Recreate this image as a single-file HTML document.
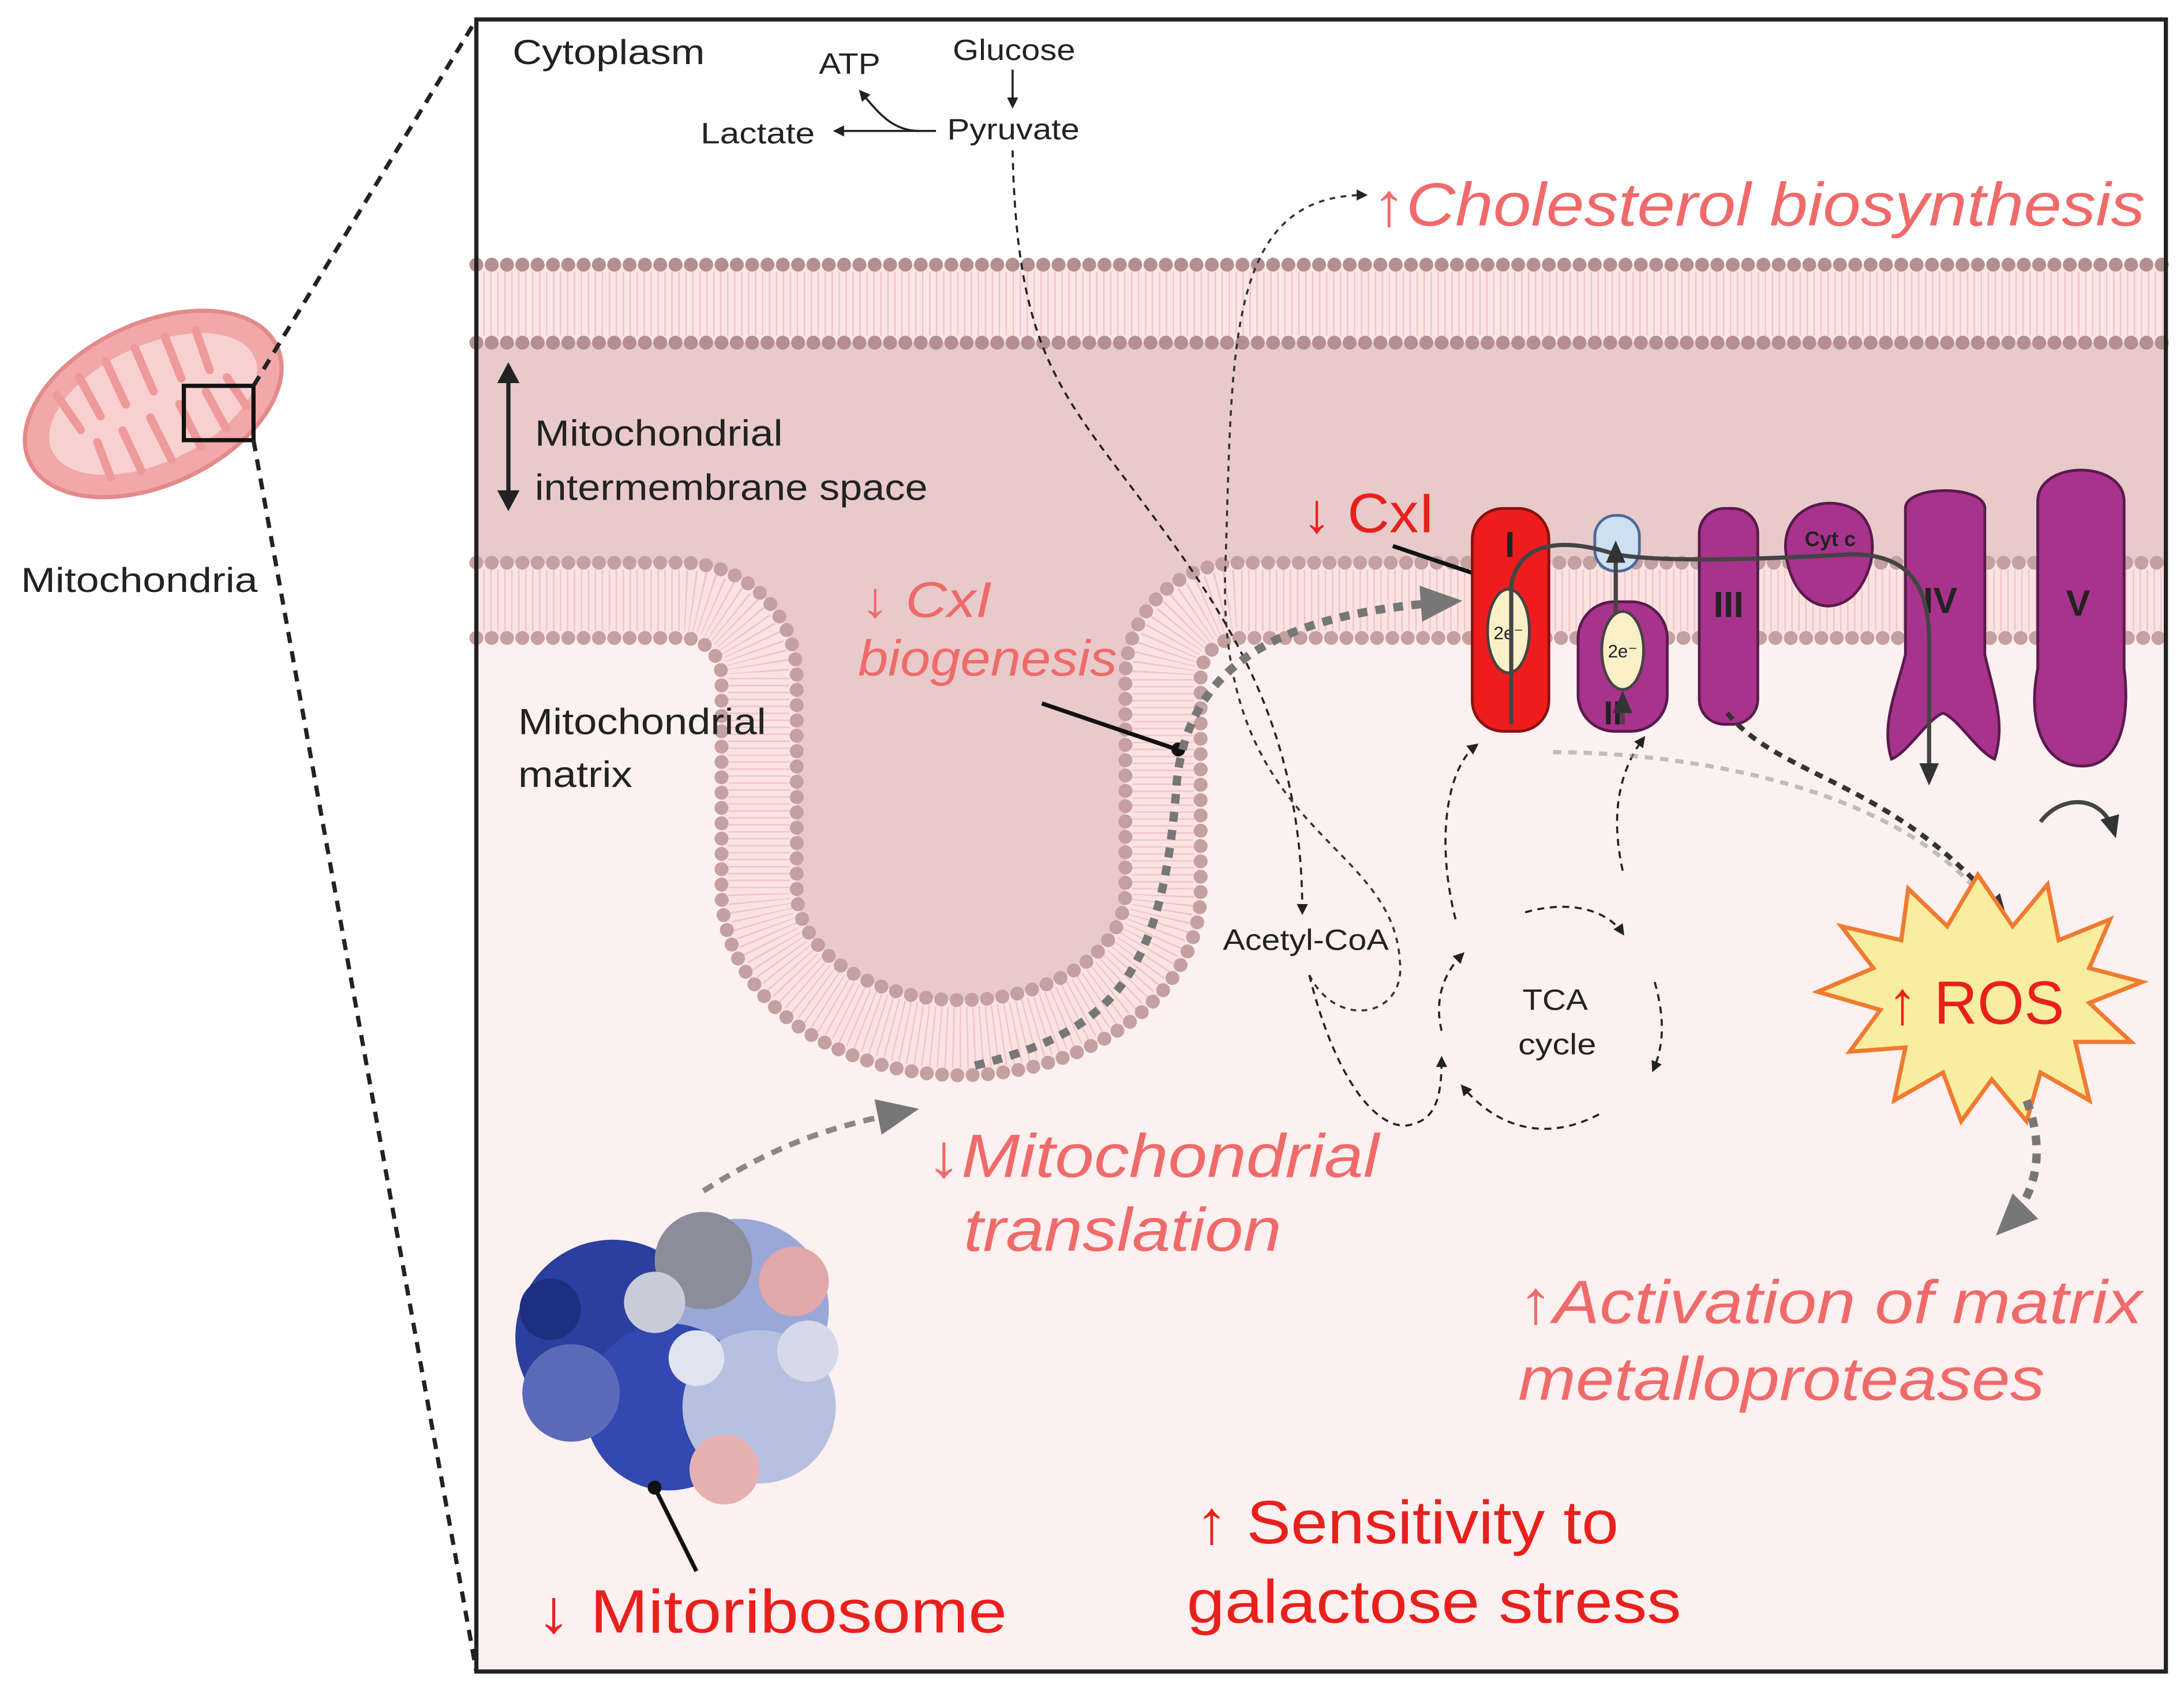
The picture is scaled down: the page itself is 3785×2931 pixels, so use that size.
<!DOCTYPE html>
<html><head><meta charset="utf-8"><style>html,body{margin:0;padding:0;background:#fff}svg{display:block}text{font-family:"Liberation Sans",sans-serif}</style></head><body>
<svg width="3785" height="2931" viewBox="0 0 1568 1214" preserveAspectRatio="none" xmlns="http://www.w3.org/2000/svg">
<defs>
<marker id="ah" markerWidth="8" markerHeight="8" refX="6" refY="4" orient="auto" markerUnits="userSpaceOnUse"><path d="M0,0 L8,4 L0,8 Z" fill="#222"/></marker>
<marker id="ahg" markerWidth="30" markerHeight="26" refX="20" refY="13" orient="auto" markerUnits="userSpaceOnUse"><path d="M0,0 L30,13 L0,26 Z" fill="#777"/></marker>
<marker id="ahd" markerWidth="16" markerHeight="14" refX="12" refY="7" orient="auto" markerUnits="userSpaceOnUse"><path d="M0,0 L16,7 L0,14 Z" fill="#333"/></marker>
</defs>
<rect width="1568" height="1214" fill="#fff"/>
<rect x="342" y="218" width="1213" height="982" fill="#fcf0f0"/>
<path d="M342,218 H1555 V431 H890 A55,55 0 0 0 835,486 V640 A145,105 0 0 1 545,640 V486 A55,55 0 0 0 490,431 H342 Z" fill="#e9caca"/>
<!-- outer membrane -->
<rect x="342" y="190" width="1213" height="56" fill="#fbe6e6"/>
<line x1="342" y1="218" x2="1555" y2="218" stroke="#f2c4c4" stroke-width="46" stroke-dasharray="1 4"/>
<line x1="342" y1="190" x2="1555" y2="190" stroke="#b48f8f" stroke-width="10" stroke-dasharray="0 11" stroke-linecap="round"/>
<line x1="342" y1="246" x2="1555" y2="246" stroke="#b48f8f" stroke-width="10" stroke-dasharray="0 11" stroke-linecap="round"/>
<!-- inner membrane -->
<path d="M342,431 H490 A55,55 0 0 1 545,486 V640 A145,105 0 0 0 835,640 V486 A55,55 0 0 1 890,431 H1555" fill="none" stroke="#fbe3e3" stroke-width="54"/>
<path d="M342,431 H490 A55,55 0 0 1 545,486 V640 A145,105 0 0 0 835,640 V486 A55,55 0 0 1 890,431 H1555" fill="none" stroke="#f2c4c4" stroke-width="44" stroke-dasharray="1 4"/>
<path d="M342,404 H490 A82,82 0 0 1 572,486 V640 A118,78 0 0 0 808,640 V486 A82,82 0 0 1 890,404 H1555" fill="none" stroke="#c4a0a0" stroke-width="10" stroke-dasharray="0 11" stroke-linecap="round"/>
<path d="M342,458 H490 A28,28 0 0 1 518,486 V640 A172,132 0 0 0 862,640 V486 A28,28 0 0 1 890,458 H1555" fill="none" stroke="#c4a0a0" stroke-width="10" stroke-dasharray="0 11" stroke-linecap="round"/>
<rect x="342" y="14" width="1213" height="1186" fill="none" stroke="#222" stroke-width="3"/>
<!-- mitochondria icon -->
<g transform="rotate(-25 110 290)">
<ellipse cx="110" cy="290" rx="98" ry="58" fill="#f2a8a8" stroke="#e48a8a" stroke-width="3"/>
<ellipse cx="110" cy="290" rx="80" ry="42" fill="#f9d0d0"/>
<g stroke="#ee9a9a" stroke-width="6" stroke-linecap="round">
<line x1="50" y1="255" x2="55" y2="285"/><line x1="70" y1="250" x2="72" y2="282"/><line x1="92" y1="248" x2="92" y2="282"/><line x1="115" y1="248" x2="114" y2="282"/><line x1="138" y1="250" x2="136" y2="282"/><line x1="160" y1="255" x2="157" y2="285"/>
<line x1="60" y1="325" x2="62" y2="298"/><line x1="82" y1="330" x2="82" y2="298"/><line x1="105" y1="332" x2="104" y2="298"/><line x1="128" y1="332" x2="127" y2="298"/><line x1="150" y1="328" x2="148" y2="298"/><line x1="170" y1="320" x2="166" y2="295"/>
</g></g>
<rect x="132" y="277" width="50" height="39" fill="none" stroke="#111" stroke-width="3"/>
<line x1="182" y1="277" x2="342" y2="14" stroke="#222" stroke-width="3" stroke-dasharray="8 6"/>
<line x1="182" y1="316" x2="342" y2="1200" stroke="#222" stroke-width="3" stroke-dasharray="8 6"/>
<text x="15" y="425" font-size="25" fill="#222" textLength="170" lengthAdjust="spacingAndGlyphs">Mitochondria</text>
<text x="368" y="46" font-size="25" fill="#222" textLength="138" lengthAdjust="spacingAndGlyphs">Cytoplasm</text>
<text x="684" y="43" font-size="21" fill="#222" textLength="88" lengthAdjust="spacingAndGlyphs">Glucose</text>
<text x="588" y="53" font-size="21" fill="#222" textLength="44" lengthAdjust="spacingAndGlyphs">ATP</text>
<text x="503" y="103" font-size="21" fill="#222" textLength="82" lengthAdjust="spacingAndGlyphs">Lactate</text>
<text x="680" y="100" font-size="21" fill="#222" textLength="95" lengthAdjust="spacingAndGlyphs">Pyruvate</text>
<line x1="727" y1="50" x2="727" y2="76" stroke="#222" stroke-width="1.5" marker-end="url(#ah)"/>
<line x1="672" y1="94" x2="600" y2="94" stroke="#222" stroke-width="1.5" marker-end="url(#ah)"/>
<path d="M660,94 C640,94 630,80 618,66" fill="none" stroke="#222" stroke-width="1.5" marker-end="url(#ah)"/>
<path d="M727,108 C730,250 760,280 820,360 C880,440 935,520 935,655" fill="none" stroke="#222" stroke-width="1.5" stroke-dasharray="5 4" marker-end="url(#ah)"/>
<path d="M940,700 C960,740 1010,730 1005,690 C1000,600 870,600 880,400 C885,250 880,140 980,140" fill="none" stroke="#333" stroke-width="1.5" stroke-dasharray="4 4" marker-end="url(#ah)"/>
<text x="985" y="162" font-size="44" font-style="italic" fill="#f06a6a" textLength="555" lengthAdjust="spacingAndGlyphs">↑Cholesterol biosynthesis</text>
<line x1="365" y1="265" x2="365" y2="362" stroke="#222" stroke-width="3"/>
<path d="M357,275 L365,260 L373,275 Z M357,352 L365,367 L373,352 Z" fill="#222"/>
<text x="384" y="320" font-size="26" fill="#222" textLength="178" lengthAdjust="spacingAndGlyphs">Mitochondrial</text>
<text x="384" y="359" font-size="26" fill="#222" textLength="282" lengthAdjust="spacingAndGlyphs">intermembrane space</text>
<text x="372" y="527" font-size="26" fill="#222" textLength="178" lengthAdjust="spacingAndGlyphs">Mitochondrial</text>
<text x="372" y="565" font-size="26" fill="#222" textLength="82" lengthAdjust="spacingAndGlyphs">matrix</text>
<text x="618" y="443" font-size="36" font-style="italic" fill="#f06a6a" textLength="94" lengthAdjust="spacingAndGlyphs">↓ CxI</text>
<text x="616" y="485" font-size="36" font-style="italic" fill="#f06a6a" textLength="186" lengthAdjust="spacingAndGlyphs">biogenesis</text>
<line x1="748" y1="505" x2="845" y2="538" stroke="#111" stroke-width="3"/>
<circle cx="846" cy="538" r="5" fill="#111"/>
<text x="935" y="382" font-size="40" fill="#e8201c" textLength="95" lengthAdjust="spacingAndGlyphs">↓ CxI</text>
<line x1="1000" y1="392" x2="1068" y2="415" stroke="#111" stroke-width="3"/>
<path d="M505,855 C560,820 600,808 650,798" fill="none" stroke="#888" stroke-width="4" stroke-dasharray="8 6" marker-end="url(#ahg)"/>
<path d="M700,765 C800,740 835,700 845,560 C855,470 930,440 1040,432" fill="none" stroke="#777" stroke-width="6" stroke-dasharray="7 6" marker-end="url(#ahg)"/>
<!-- complexes -->
<rect x="1057" y="365" width="55" height="160" rx="22" fill="#ee1c1c" stroke="#8a1010" stroke-width="2"/>
<text x="1084" y="400" font-size="26" font-weight="bold" fill="#222" text-anchor="middle">I</text>
<ellipse cx="1083" cy="453" rx="15" ry="30" fill="#f9f0c8" stroke="#444" stroke-width="2"/>
<text x="1083" y="459" font-size="13" fill="#222" text-anchor="middle">2e⁻</text>
<rect x="1133" y="432" width="64" height="93" rx="26" fill="#a7338c" stroke="#5a1a4c" stroke-width="2"/>
<ellipse cx="1165" cy="467" rx="15" ry="28" fill="#f9f0c8" stroke="#444" stroke-width="2"/>
<text x="1165" y="472" font-size="13" fill="#222" text-anchor="middle">2e⁻</text>
<text x="1158" y="520" font-size="24" font-weight="bold" fill="#222" text-anchor="middle">II</text>
<rect x="1145" y="370" width="32" height="40" rx="15" fill="#cde0f2" stroke="#4a6a9a" stroke-width="2"/>
<rect x="1220" y="365" width="42" height="155" rx="18" fill="#a7338c" stroke="#5a1a4c" stroke-width="2"/>
<text x="1241" y="443" font-size="26" font-weight="bold" fill="#222" text-anchor="middle">III</text>
<path d="M1282,395 C1280,365 1310,355 1330,365 C1350,375 1348,410 1330,428 C1310,445 1285,430 1282,395 Z" fill="#a7338c" stroke="#5a1a4c" stroke-width="2"/>
<text x="1314" y="392" font-size="15" font-weight="bold" fill="#222" text-anchor="middle">Cyt c</text>
<path d="M1368,365 C1368,348 1425,348 1425,365 L1425,470 C1432,500 1440,520 1432,545 C1420,540 1405,515 1395,512 C1385,515 1370,540 1358,545 C1350,520 1362,495 1368,470 Z" fill="#a7338c" stroke="#5a1a4c" stroke-width="2"/>
<text x="1393" y="440" font-size="26" font-weight="bold" fill="#222" text-anchor="middle">IV</text>
<path d="M1463,360 C1463,330 1525,330 1525,360 L1525,480 C1530,520 1520,550 1495,550 C1468,550 1455,520 1463,480 Z" fill="#a7338c" stroke="#5a1a4c" stroke-width="2"/>
<text x="1492" y="442" font-size="26" font-weight="bold" fill="#222" text-anchor="middle">V</text>
<path d="M1085,520 L1085,420 C1090,390 1120,385 1160,398 C1200,405 1290,400 1330,398 C1370,398 1385,420 1385,460 L1385,560" fill="none" stroke="#444" stroke-width="3" marker-end="url(#ahd)"/>
<path d="M1165,520 L1165,500" fill="none" stroke="#444" stroke-width="3" marker-end="url(#ahd)"/>
<path d="M1160,440 L1160,392" fill="none" stroke="#444" stroke-width="3" marker-end="url(#ahd)"/>
<path d="M1465,590 C1480,570 1510,570 1518,598" fill="none" stroke="#444" stroke-width="3" marker-end="url(#ahd)"/>
<text x="1093" y="725" font-size="21" fill="#222" textLength="47" lengthAdjust="spacingAndGlyphs">TCA</text>
<text x="1090" y="757" font-size="21" fill="#222" textLength="56" lengthAdjust="spacingAndGlyphs">cycle</text>
<path d="M1095,655 C1130,645 1155,655 1165,670" fill="none" stroke="#222" stroke-width="1.5" stroke-dasharray="5 4" marker-end="url(#ah)"/>
<path d="M1188,705 C1195,730 1195,750 1187,768" fill="none" stroke="#222" stroke-width="1.5" stroke-dasharray="5 4" marker-end="url(#ah)"/>
<path d="M1148,800 C1110,820 1075,810 1050,780" fill="none" stroke="#222" stroke-width="1.5" stroke-dasharray="5 4" marker-end="url(#ah)"/>
<path d="M1035,740 C1030,720 1035,700 1050,685" fill="none" stroke="#222" stroke-width="1.5" stroke-dasharray="5 4" marker-end="url(#ah)"/>
<path d="M940,700 C960,780 990,810 1010,808 C1030,805 1035,790 1035,760" fill="none" stroke="#222" stroke-width="1.5" stroke-dasharray="5 4" marker-end="url(#ah)"/>
<path d="M1045,660 C1030,600 1040,550 1060,535" fill="none" stroke="#222" stroke-width="1.5" stroke-dasharray="5 4" marker-end="url(#ah)"/>
<path d="M1165,625 C1155,580 1165,550 1180,530" fill="none" stroke="#222" stroke-width="1.5" stroke-dasharray="5 4" marker-end="url(#ah)"/>
<text x="878" y="682" font-size="21" fill="#222" textLength="119" lengthAdjust="spacingAndGlyphs">Acetyl-CoA</text>
<path d="M1240,512 C1280,560 1360,560 1438,655" fill="none" stroke="#333" stroke-width="3.5" stroke-dasharray="6 5" marker-end="url(#ahd)"/>
<path d="M1115,540 C1200,540 1350,560 1420,640" fill="none" stroke="#999" stroke-width="3" stroke-dasharray="6 5" opacity="0.6"/>
<polygon fill="#f9eea0" stroke="#f07a30" stroke-width="3" points="1420,628 1445,665 1470,635 1478,675 1515,660 1500,695 1538,705 1500,720 1530,748 1490,748 1500,790 1465,770 1455,805 1430,775 1408,805 1395,770 1360,790 1368,752 1328,755 1350,725 1305,712 1345,695 1322,665 1365,675 1370,638 1398,665"/>
<text x="1355" y="735" font-size="44" fill="#e8201c" textLength="127" lengthAdjust="spacingAndGlyphs">↑ ROS</text>
<path d="M1455,790 C1470,830 1460,860 1440,880" fill="none" stroke="#777" stroke-width="6" stroke-dasharray="7 6" marker-end="url(#ahg)"/>
<text x="665" y="845" font-size="44" font-style="italic" fill="#f06a6a" textLength="325" lengthAdjust="spacingAndGlyphs">↓Mitochondrial</text>
<text x="692" y="898" font-size="44" font-style="italic" fill="#f06a6a" textLength="228" lengthAdjust="spacingAndGlyphs">translation</text>
<text x="1090" y="950" font-size="44" font-style="italic" fill="#f06a6a" textLength="448" lengthAdjust="spacingAndGlyphs">↑Activation of matrix</text>
<text x="1090" y="1005" font-size="44" font-style="italic" fill="#f06a6a" textLength="378" lengthAdjust="spacingAndGlyphs">metalloproteases</text>
<text x="858" y="1108" font-size="44" fill="#e8201c" textLength="304" lengthAdjust="spacingAndGlyphs">↑ Sensitivity to</text>
<text x="852" y="1165" font-size="44" fill="#e8201c" textLength="355" lengthAdjust="spacingAndGlyphs">galactose stress</text>
<text x="385" y="1172" font-size="44" fill="#e8201c" textLength="338" lengthAdjust="spacingAndGlyphs">↓ Mitoribosome</text>
<g>
<circle cx="440" cy="960" r="70" fill="#2a3f9e"/>
<circle cx="530" cy="940" r="65" fill="#9aa8d8"/>
<circle cx="480" cy="1010" r="60" fill="#3348b0"/>
<circle cx="545" cy="1010" r="55" fill="#b8c0e0"/>
<circle cx="505" cy="905" r="35" fill="#8c8c9a"/>
<circle cx="570" cy="920" r="25" fill="#e0a8a8"/>
<circle cx="520" cy="1055" r="25" fill="#e6b0b0"/>
<circle cx="410" cy="1000" r="35" fill="#5a6ab8"/>
<circle cx="470" cy="935" r="22" fill="#c8ccd8"/>
<circle cx="580" cy="970" r="22" fill="#d6d9ea"/>
<circle cx="395" cy="940" r="22" fill="#1e2f80"/>
<circle cx="500" cy="975" r="20" fill="#e0e4f0"/>
</g>
<line x1="470" y1="1068" x2="500" y2="1128" stroke="#111" stroke-width="3"/>
<circle cx="470" cy="1068" r="5" fill="#111"/>
</svg>
</body></html>
